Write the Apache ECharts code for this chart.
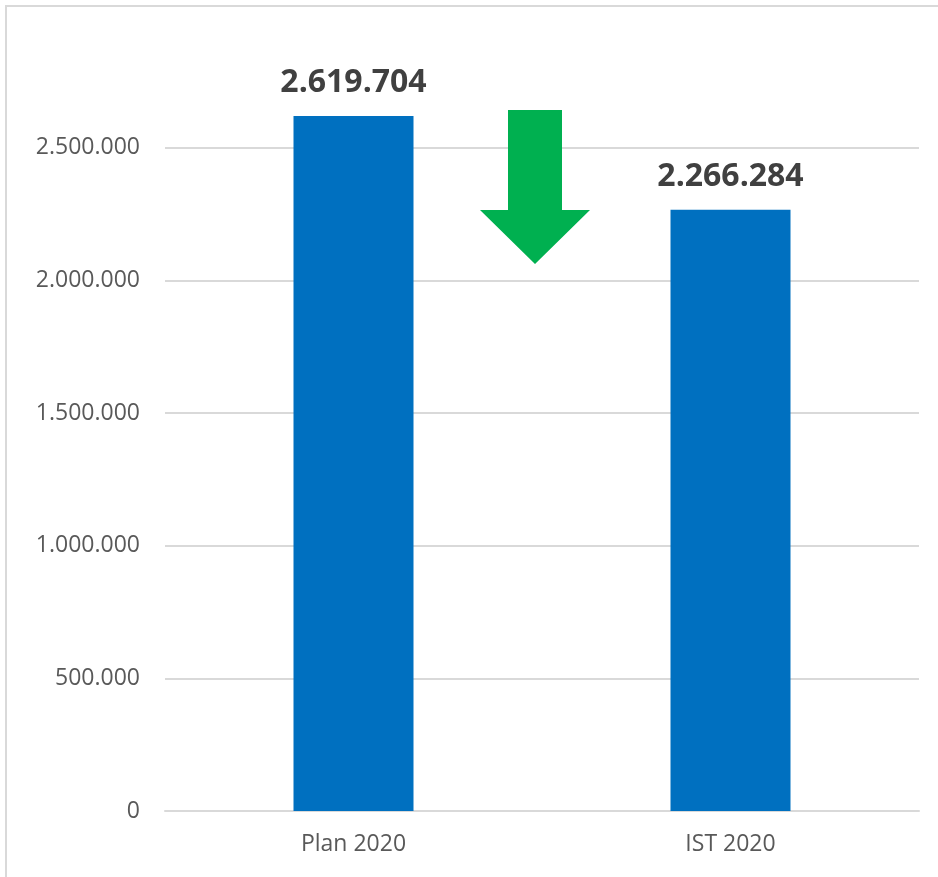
<!DOCTYPE html>
<html>
<head>
<meta charset="utf-8">
<script src="https://cdn.jsdelivr.net/npm/echarts@6/dist/echarts.min.js"></script>
<style>
  html, body { margin: 0; padding: 0; background: #fff; }
  #chart { width: 938px; height: 877px; }
</style>
</head>
<body>
<div id="chart"></div>
<script>
// Plan vs. actual (IST) for 2020
const categories = ['Plan 2020', 'IST 2020'];
const values = [2619704, 2266284];

// German number format: 2.500.000
function fmt(v) {
  return String(Math.round(v)).replace(/\B(?=(\d{3})+(?!\d))/g, '.');
}

const chart = echarts.init(document.getElementById('chart'));
chart.setOption({
  backgroundColor: '#ffffff',
  animation: false,
  grid: { left: 165, right: 19, top: 15, bottom: 66 },
  xAxis: {
    type: 'category',
    data: categories,
    axisLine: { show: true, lineStyle: { color: '#d9d9d9', width: 2 } },
    axisTick: { show: false },
    axisLabel: { color: '#595959', fontFamily: 'Open Sans', fontSize: 23, margin: 22 }
  },
  yAxis: {
    type: 'value',
    min: 0,
    max: 3000000,
    interval: 500000,
    axisLine: { show: false },
    axisTick: { show: false },
    axisLabel: {
      color: '#595959', fontFamily: 'Open Sans', fontSize: 23, margin: 25,
      showMaxLabel: false,
      formatter: fmt
    },
    splitLine: { show: true, showMaxLine: false, lineStyle: { color: '#d9d9d9', width: 2 } }
  },
  series: [{
    type: 'bar',
    data: values,
    barWidth: 120,
    itemStyle: { color: '#0070c0' },
    label: {
      show: true,
      position: 'top',
      distance: 17,
      color: '#404040',
      fontFamily: 'Open Sans',
      fontWeight: 'bold',
      fontSize: 32,
      formatter: p => fmt(p.value)
    }
  }],
  graphic: [
    // chart frame
    {
      type: 'rect',
      z: 0,
      shape: { x: 6, y: 6, width: 1000, height: 1000 },
      style: { fill: 'none', stroke: '#d9d9d9', lineWidth: 2 },
      silent: true
    },
    // green downward arrow between the bars, drawn above the gridlines
    {
      type: 'polygon',
      z: 100,
      shape: {
        points: [[508, 110], [562, 110], [562, 210], [590, 210], [535, 264], [480, 210], [508, 210]]
      },
      style: { fill: '#00b050' },
      silent: true
    }
  ]
});
</script>
</body>
</html>
